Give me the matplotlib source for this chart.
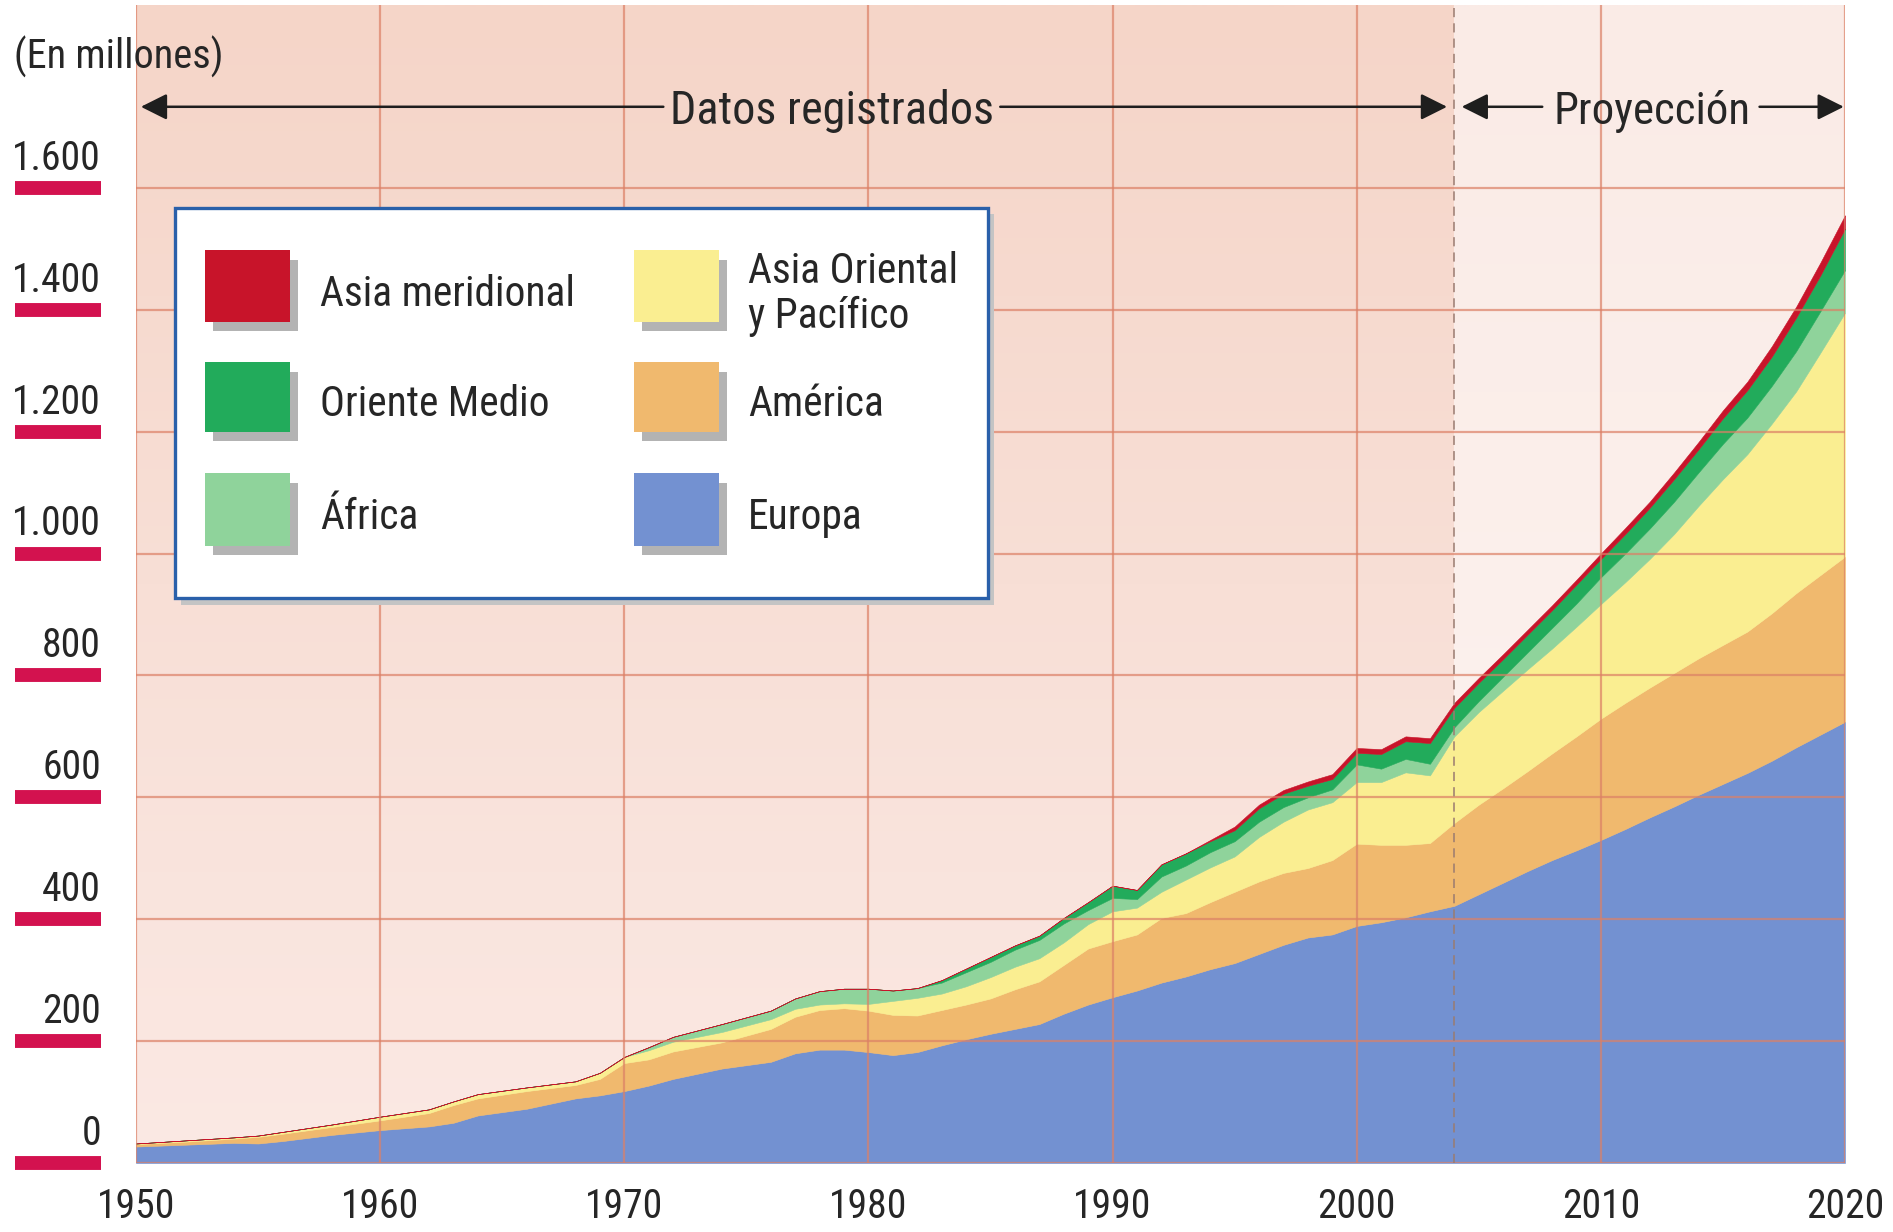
import numpy as np
import matplotlib
matplotlib.use("Agg")
import matplotlib.pyplot as plt
from matplotlib import font_manager, transforms
from matplotlib.patches import Rectangle
from matplotlib.lines import Line2D

# ---------------------------------------------------------------------------
# Llegadas de turistas internacionales por región (millones)
# ---------------------------------------------------------------------------
years = [1950, 1952, 1954, 1955, 1956, 1958, 1960, 1962, 1963, 1964, 1966, 1968, 1969, 1970,
         1971, 1972, 1974, 1976, 1977, 1978, 1979, 1980, 1981, 1982,
         1983, 1984, 1985, 1986, 1987, 1988, 1989, 1990, 1991, 1992, 1993, 1994, 1995,
         1996, 1997, 1998, 1999, 2000, 2001, 2002, 2003, 2004, 2005, 2006, 2007, 2008,
         2009, 2010, 2011, 2012, 2013, 2014, 2015, 2016, 2017, 2018, 2019, 2020]

europa = [27, 30, 33, 32, 36, 46, 54, 60, 66, 78, 89, 106, 111, 118,
          127, 138, 155, 166, 180, 186, 186, 182, 177, 182,
          193, 203, 212, 220, 228, 245, 260, 272, 283, 296, 306, 318, 328,
          343, 358, 370, 375, 389, 395, 403, 413, 422, 441, 460, 479, 497,
          513, 530, 548, 567, 585, 604, 622, 640, 660, 682, 703, 724]

america = [4, 5, 7, 11, 12, 13, 16, 22, 29, 28, 29, 22, 27, 46,
           43, 45, 43, 54, 60, 65, 68, 68, 66, 60,
           58, 57, 58, 65, 70, 80, 92, 92, 92, 106, 104, 110, 117,
           119, 118, 114, 122, 135, 127, 119, 112, 136, 147, 155, 164, 175,
           187, 199, 207, 213, 219, 224, 228, 232, 242, 253, 262, 271]

asia_oriental = [1, 2, 2, 2, 3, 4, 6, 6, 6, 7, 6, 6, 10, 10,
                 15, 16, 17, 16, 13, 9, 8, 11, 23, 29,
                 27, 30, 35, 37, 38, 37, 40, 49, 44, 43, 55, 57, 58,
                 73, 84, 96, 95, 101, 103, 119, 111, 142, 152, 160, 167, 172,
                 180, 188, 198, 211, 228, 250, 272, 291, 311, 331, 365, 400]

africa = [0, 0, 0, 0, 0, 0, 0, 0, 0, 0, 0, 0, 0, 0,
          5, 8, 13, 14, 17, 22, 24, 25, 17, 16,
          18, 23, 25, 28, 30, 31, 23, 22, 14, 25, 23, 25, 25,
          25, 24, 20, 21, 29, 22, 22, 19, 15, 18, 23, 28, 34,
          38, 44, 47, 50, 53, 55, 58, 60, 62, 66, 68, 70]

oriente_medio = [0, 0, 0, 0, 0, 0, 0, 0, 0, 0, 0, 0, 0, 0,
                 0, 0, 0, 0, 0, 0, 0, 0, 0, 0,
                 4, 6, 8, 7, 7, 9, 13, 20, 15, 20, 20, 18, 18,
                 22, 22, 19, 17, 19, 24, 29, 34, 32, 30, 29, 29, 29,
                 31, 30, 32, 34, 37, 38, 42, 45, 48, 55, 59, 68]

asia_meridional = [0, 0, 0, 0, 0, 0, 0, 0, 0, 0, 0, 0, 0, 0,
                   0, 0, 0, 0, 0, 0, 0, 0, 0, 0,
                   0, 0, 0, 0, 0, 0, 0, 0, 0, 0, 0, 2, 6,
                   6, 6, 7, 8, 8, 8, 8, 8, 8, 8, 8, 8, 8,
                   8, 9, 10, 10, 11, 12, 13, 14, 17, 18, 21, 22]

region_names = ["Europa", "América", "Asia Oriental\ny Pacífico",
                "África", "Oriente Medio", "Asia meridional"]
region_colors = ["#7391d1", "#f0b96e", "#faee91", "#8fd39b", "#22ab5b", "#c8142a"]

y_ticks = [0, 200, 400, 600, 800, 1000, 1200, 1400, 1600]
y_labels = ["0", "200", "400", "600", "800", "1.000", "1.200", "1.400", "1.600"]
x_ticks = [1950, 1960, 1970, 1980, 1990, 2000, 2010, 2020]
x_labels = ["1950", "1960", "1970", "1980", "1990", "2000", "2010", "2020"]

proj_start = 2004

# ---------------------------------------------------------------------------
# Tipografía: una sans estrecha si está disponible
# ---------------------------------------------------------------------------
installed = {f.name for f in font_manager.fontManager.ttflist}
if "Liberation Sans Narrow" in installed:
    FONT, k = "Liberation Sans Narrow", 1.0
elif "Roboto Condensed" in installed:
    FONT, k = "Roboto Condensed", 0.95
else:
    FONT, k = "DejaVu Sans", 0.74
plt.rcParams["font.family"] = [FONT, "DejaVu Sans"]
TXT = "#262626"

W, H = 1893, 1232
fig = plt.figure(figsize=(W / 100, H / 100), dpi=100)
fig.patch.set_facecolor("white")
ax = fig.add_axes([136 / W, 69 / H, (1845 - 136) / W, (1163 - 5) / H])

# fondo degradado: datos registrados / proyección
def vertical_gradient(top, bottom, n=256):
    t = np.linspace(0, 1, n)[:, None, None]
    c0 = np.array(matplotlib.colors.to_rgb(top))[None, None, :]
    c1 = np.array(matplotlib.colors.to_rgb(bottom))[None, None, :]
    return c0 * (1 - t) + c1 * t

YMAX = 1900
ax.imshow(vertical_gradient("#f5d5c8", "#fbe9e4"), extent=(years[0], proj_start, 0, YMAX),
          aspect="auto", zorder=0, interpolation="bilinear")
ax.imshow(vertical_gradient("#faebe6", "#fdf4f1"), extent=(proj_start, years[-1], 0, YMAX),
          aspect="auto", zorder=0, interpolation="bilinear")

# áreas apiladas
polys = ax.stackplot(years, europa, america, asia_oriental, africa, oriente_medio,
                     asia_meridional, colors=region_colors, zorder=1)
for p, c in zip(polys, region_colors):
    p.set_edgecolor(c)
    p.set_linewidth(0.4)

ax.set_xlim(years[0], years[-1])
ax.set_ylim(0, YMAX)

ax.set_xticks(x_ticks)
ax.set_xticklabels(x_labels)
ax.set_yticks(y_ticks)
ax.set_axisbelow(False)
ax.grid(True, color="#dc8066", alpha=0.7, lw=1.6)
ax.tick_params(axis="x", length=0, pad=17, labelsize=30 * k, labelcolor=TXT)
ax.tick_params(axis="y", left=False, labelleft=False)
for s in ax.spines.values():
    s.set_visible(False)

ax.axvline(proj_start, color="#9a7b70", lw=1.1, ls=(0, (6, 4)), zorder=4)

# etiquetas del eje Y con barra
bar_tr = transforms.blended_transform_factory(fig.transFigure, ax.transData)
for v, lab in zip(y_ticks, y_labels):
    ax.add_artist(Line2D([15 / W, 101 / W], [v, v], transform=bar_tr, color="#d3124f",
                         lw=10, solid_capstyle="butt", clip_on=False))
    ax.annotate(lab, xy=(101 / W, v), xycoords=bar_tr, xytext=(0, 13),
                textcoords="offset points", ha="right", va="baseline",
                fontsize=30 * k, color=TXT, annotation_clip=False)

fig.text(14 / W, 1 - 69 / H, "(En millones)", ha="left", va="baseline",
         fontsize=30.5 * k, color=TXT)

# flechas de período
ARROW_Y = 1733
TEXT_Y = 1705
aprops = dict(arrowstyle="-|>,head_length=0.8,head_width=0.4", color="#1e1e1e",
              lw=1.8, shrinkA=0, shrinkB=0, mutation_scale=20)
ax.annotate("", xy=(1950.2, ARROW_Y), xytext=(1971.6, ARROW_Y), arrowprops=aprops)
ax.annotate("", xy=(2003.7, ARROW_Y), xytext=(1985.4, ARROW_Y), arrowprops=aprops)
ax.text(1978.5, TEXT_Y, "Datos registrados", ha="center", va="baseline",
        fontsize=35 * k, color=TXT)
ax.annotate("", xy=(2004.3, ARROW_Y), xytext=(2007.6, ARROW_Y), arrowprops=aprops)
ax.annotate("", xy=(2019.95, ARROW_Y), xytext=(2016.5, ARROW_Y), arrowprops=aprops)
ax.text(2012.1, TEXT_Y, "Proyección", ha="center", va="baseline",
        fontsize=34 * k, color=TXT)

# leyenda
def fig_rect(x0, y0, x1, y1, **kw):
    return Rectangle((x0 / W, 1 - y1 / H), (x1 - x0) / W, (y1 - y0) / H,
                     transform=fig.transFigure, **kw)

fig.add_artist(fig_rect(181, 214, 994, 605, facecolor="#c4c4c4", edgecolor="none"))
fig.add_artist(fig_rect(175, 208, 988, 598, facecolor="white", edgecolor="#2a60aa", lw=2.4))

col_x = [205, 634]
text_x = [320, 748]
row_y = [(250, 322), (362, 432), (473, 546)]
layout = [(5, 0, 0), (4, 0, 1), (3, 0, 2), (2, 1, 0), (1, 1, 1), (0, 1, 2)]
for idx, col, row in layout:
    x0 = col_x[col]
    y0, y1 = row_y[row]
    fig.add_artist(fig_rect(x0 + 8, y0 + 10, x0 + 93, y1 + 9, facecolor="#b3b3b3",
                            edgecolor="none"))
    fig.add_artist(fig_rect(x0, y0, x0 + 85, y1, facecolor=region_colors[idx],
                            edgecolor="none"))
    fig.text(text_x[col] / W, 1 - ((y0 + y1) / 2 + 8) / H, region_names[idx],
             ha="left", va="center", fontsize=31.5 * k, color=TXT, linespacing=1.15)

fig.savefig("out.png", dpi=100)
